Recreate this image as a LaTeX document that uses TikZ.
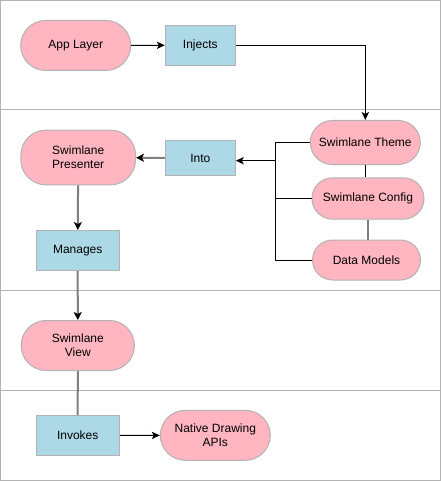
\documentclass[tikz,border=0pt]{standalone}
\usepackage{fontspec}
\setmainfont{Liberation Sans}
\usetikzlibrary{arrows.meta}
\definecolor{pinkfill}{HTML}{FFB6C1}
\definecolor{bluefill}{HTML}{ADD8E6}
\definecolor{shapeline}{HTML}{B3B3B3}
\definecolor{greyline}{HTML}{808080}
\tikzset{
  ovalnode/.style={rectangle, rounded corners=#1, draw=shapeline, fill=pinkfill, line width=0.75pt, inner sep=0pt, align=center, font=\fontsize{9pt}{10.5pt}\selectfont},
  ovalnode/.default=18.75pt,
  boxnode/.style={rectangle, draw=shapeline, fill=bluefill, line width=0.75pt, inner sep=0pt, align=center, font=\fontsize{9pt}{10.5pt}\selectfont},
  blackarrow/.style={draw=black, line width=0.75pt, -{Stealth[length=6pt,width=5.5pt,inset=1.5pt]}},
  blackline/.style={draw=black, line width=0.75pt},
  greyarrow/.style={draw=greyline, line width=1.5pt, -{Stealth[length=6pt,width=6pt,inset=1.5pt,color=black]}},
  greylineb/.style={draw=greyline, line width=1.5pt},
  lanefr/.style={draw=shapeline, line width=0.75pt}
}
\begin{document}
\begin{tikzpicture}[x=0.75pt, y=-0.75pt]
\useasboundingbox (0,0) rectangle (441,481);
% lanes
\draw[lanefr] (0.5,0.5) rectangle (440.3,480.3);
\draw[lanefr] (0.5,110) -- (440.3,110);
\draw[lanefr] (0.5,290.3) -- (440.3,290.3);
\draw[lanefr] (0.5,390.3) -- (440.3,390.3);
% nodes
\node[ovalnode, minimum width=82.5pt, minimum height=37.5pt] (app) at (75.7,45.5) {App Layer};
\node[boxnode, minimum width=52.5pt, minimum height=30pt] (inj) at (200.3,45.2) {Injects};
\node[ovalnode=16.5pt, minimum width=82.5pt, minimum height=33pt] (theme) at (365.3,142.5) {Swimlane Theme};
\node[boxnode, minimum width=52.5pt, minimum height=26.5pt] (into) at (200.3,158) {Into};
\node[ovalnode, minimum width=86pt, minimum height=41pt] (pres) at (78.2,157.5) {Swimlane\\Presenter};
\node[ovalnode=15.4pt, minimum width=84pt, minimum height=31pt] (conf) at (368,198.5) {Swimlane Config};
\node[ovalnode=15pt, minimum width=81pt, minimum height=30pt] (dm) at (366.5,260) {Data Models};
\node[boxnode, minimum width=62.5pt, minimum height=30pt] (man) at (77.7,250.5) {Manages};
\node[ovalnode, minimum width=85pt, minimum height=37.5pt] (view) at (77.8,345.5) {Swimlane\\View};
\node[boxnode, minimum width=62.5pt, minimum height=30pt] (inv) at (77.7,435.5) {Invokes};
\node[ovalnode, minimum width=82.5pt, minimum height=37.5pt] (nat) at (215.3,435.3) {Native Drawing\\APIs};
% connectors
\coordinate (jx) at (275.3,160.7);
\draw[blackarrow] (app) -- (inj);
\draw[blackarrow] (inj.east) -| (theme.north);
\draw[blackline] (theme.west) -| (jx);
\draw[blackline] (conf.west) -| (jx);
\draw[blackline] (dm.west) -| (jx);
\draw[blackarrow] (jx) -- (into.east |- jx);
\draw[blackline] (theme.south) -- (theme.south |- conf.north);
\draw[greylineb] (dm.north -| conf.south) -- (conf.south);
\draw[greyarrow] (into) -- (pres);
\draw[greyarrow] (pres) -- (man);
\draw[greyarrow] (man) -- (view);
\draw[greylineb] (view) -- (inv);
\draw[blackarrow] (inv) -- (nat);
\end{tikzpicture}
\end{document}
